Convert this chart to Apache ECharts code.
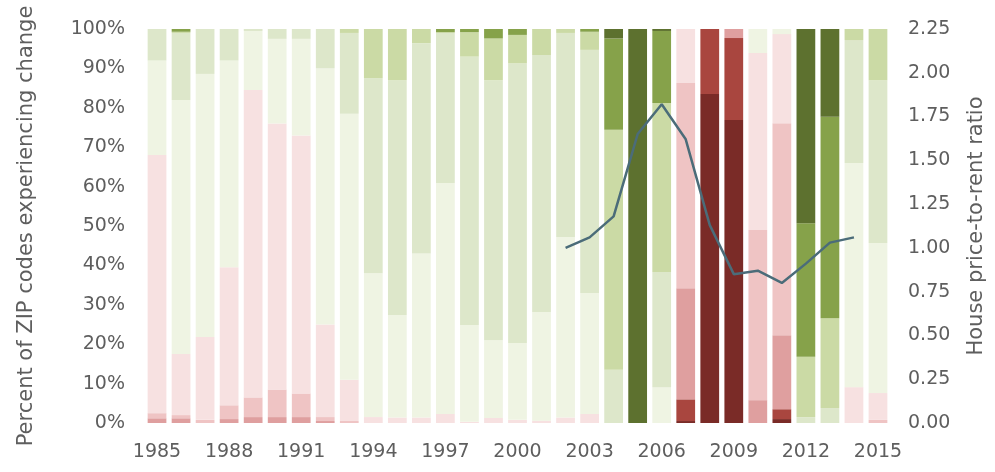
<!DOCTYPE html>
<html>
<head>
<meta charset="utf-8">
<script src="https://cdn.jsdelivr.net/npm/echarts@6/dist/echarts.min.js"></script>
<style>
html,body{margin:0;padding:0;background:#fff;}
#chart{width:995px;height:472px;}
</style>
</head>
<body>
<div id="chart"></div>
<script>
var years = [];
for (var y = 1985; y <= 2015; y++) years.push(String(y));

// share of ZIP codes per change bin (bottom = largest decline, top = largest increase)
var declineLarge  = [0,0,0,0,0,0,0,0,0,0, 0,0,0,0,0,0,0,0,0,0, 0,0,0.5,83.5,76.9,0,1,0,0,0,0];
var declineMed    = [0,0,0,0,0,0,0,0,0,0, 0,0,0,0,0,0,0,0,0,0, 0,0,5.5,16.5,20.8,0,2.5,0,0,0,0];
var declineSmall  = [1.2,1.2,0,1,1.5,1.5,1.5,0.5,0,0, 0,0,0,0,0,0,0,0,0,0, 0,0,28.2,0,2.3,5.8,18.8,0,0,0,0];
var declineSlight = [1.3,0.8,0.8,3.5,5,7,6,1,0.5,0, 0,0,0,0,0,0,0,0,0,0, 0,0,52.1,0,0,43.2,53.8,0,0,0,0.8];
var declineTiny   = [65.5,15.5,21,35,78,67.5,65.5,23.5,10.5,1.5, 1.4,1.4,2.3,0.3,1.3,0.8,0.6,1.4,2.3,0, 0,0,13.7,0,0,44.9,22.6,0,0,9.1,6.8];
var riseTiny      = [24,64.5,66.8,52.5,15,21.5,24.5,65,67.5,36.5, 26,41.6,58.6,24.6,19.7,19.5,27.6,45.8,30.7,0, 0,9.1,0,0,0,6.1,1.3,0,0,56.9,38.1];
var riseSlight    = [8,17,11.4,8,0.5,2.5,2.5,10,20.5,49.5, 59.6,53.4,38.1,68.1,66,71,65.2,51.8,61.7,13.5, 0,29.2,0,0,0,0,0,1.5,3.8,31.2,41.3];
var riseSmall     = [0,0.3,0,0,0,0,0,0,1,12.5, 13,3.6,0.2,6.2,10.6,7.2,6.6,1,4.6,60.9, 0,42.9,0,0,0,0,0,15.3,22.8,2.8,13];
var riseMed       = [0,0.7,0,0,0,0,0,0,0,0, 0,0,0.8,0.8,2.4,1.5,0,0,0.7,23.2, 0,18.3,0,0,0,0,0,33.9,51.1,0,0];
var riseLarge     = [0,0,0,0,0,0,0,0,0,0, 0,0,0,0,0,0,0,0,0,2.4, 100,0.5,0,0,0,0,0,49.3,22.3,0,0];

// house price-to-rent ratio (2002-2014)
var priceToRent = [null,null,null,null,null,null,null,null,null,null,
  null,null,null,null,null,null,null,1.00,1.06,1.18,
  1.65,1.82,1.62,1.13,0.85,0.87,0.80,0.91,1.03,1.06,null];

var leftTicks = ['0%','10%','20%','30%','40%','50%','60%','70%','80%','90%','100%'];

var binNames = ['Large decline','Moderate decline','Small decline','Slight decline','Minimal decline',
                'Minimal increase','Slight increase','Small increase','Moderate increase','Large increase'];
var binData = [declineLarge, declineMed, declineSmall, declineSlight, declineTiny,
               riseTiny, riseSlight, riseSmall, riseMed, riseLarge];
var binColors = ['#7a2b27','#a9463f','#df9f9f','#efc4c4','#f7e1e1',
                 '#eff4e3','#dde7ca','#cbdaa5','#86a24a','#5d712f'];

var font = 'DejaVu Sans';
var txt = '#5e5e5e';

var series = binData.map(function (d, i) {
  return {
    name: binNames[i], type: 'bar', stack: 'share', data: d,
    barCategoryGap: '22%',
    itemStyle: { color: binColors[i] },
    emphasis: { disabled: true },
    yAxisIndex: 0
  };
});
series.push({
  name: 'House price-to-rent ratio', type: 'line', data: priceToRent, yAxisIndex: 1,
  showSymbol: false, symbol: 'none', connectNulls: false,
  lineStyle: { color: '#4b6c79', width: 2.5 }, z: 10
});

var chart = echarts.init(document.getElementById('chart'), null, { renderer: 'canvas' });
chart.setOption({
  animation: false,
  backgroundColor: '#ffffff',
  grid: { left: 145, right: 103, top: 29, bottom: 49 },
  xAxis: {
    type: 'category', data: years,
    axisLine: { show: false }, axisTick: { show: false },
    axisLabel: { interval: 2, color: txt, fontFamily: font, fontSize: 19, margin: 20 },
    splitLine: { show: false }
  },
  yAxis: [{
    type: 'value', min: 0, max: 100, interval: 10,
    name: 'Percent of ZIP codes experiencing change',
    nameLocation: 'middle', nameGap: 108, nameRotate: 90,
    nameTextStyle: { color: txt, fontFamily: font, fontSize: 21 },
    axisLine: { show: false }, axisTick: { show: false },
    axisLabel: { color: txt, fontFamily: font, fontSize: 19, margin: 20,
      formatter: function (v) { return leftTicks[Math.round(v / 10)]; } },
    splitLine: { show: false }
  }, {
    type: 'value', min: 0, max: 2.25, interval: 0.25,
    name: 'House price-to-rent ratio',
    nameLocation: 'middle', nameGap: 76, nameRotate: 90,
    nameTextStyle: { color: txt, fontFamily: font, fontSize: 21 },
    axisLine: { show: false }, axisTick: { show: false },
    axisLabel: { color: txt, fontFamily: font, fontSize: 19, margin: 18,
      formatter: function (v) { return v.toFixed(2); } },
    splitLine: { show: false }
  }],
  series: series
});
</script>
</body>
</html>
